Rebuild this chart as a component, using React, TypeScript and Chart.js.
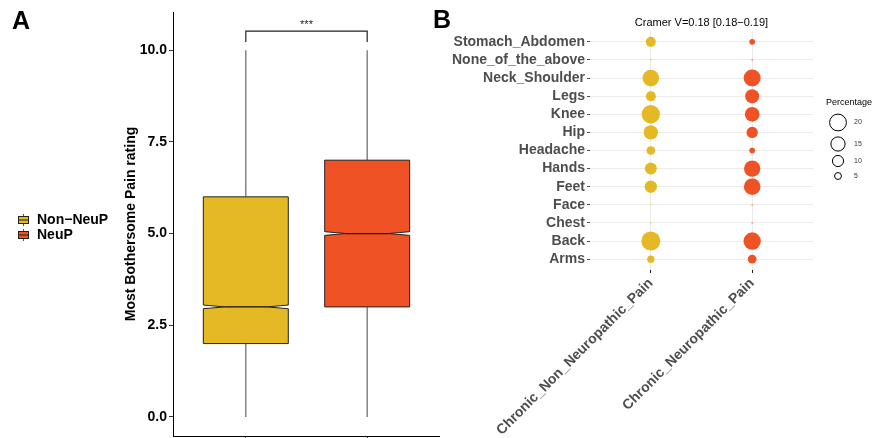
import React, { useEffect, useRef } from "react";
import { Chart, registerables } from "chart.js";
Chart.register(...registerables);

// ---------- Panel A data ----------
const groups = ["Non−NeuP", "NeuP"];
const groupColors = ["#E5B925", "#EF5224"];
const whiskerLow = [0, 0];
const q1 = [2, 3];
const median = [3, 5];
const q3 = [6, 7];
const whiskerHigh = [10, 10];
const notchHalf = [0.05, 0.05];
const yTicksA = [0, 2.5, 5, 7.5, 10];
const bracketLegY = 10.22;
const bracketTopY = 10.52;
const sigLabel = "***";
const yTitleA = "Most Bothersome Pain rating";

// ---------- Panel B data ----------
const painSites = [
  "Stomach_Abdomen",
  "None_of_the_above",
  "Neck_Shoulder",
  "Legs",
  "Knee",
  "Hip",
  "Headache",
  "Hands",
  "Feet",
  "Face",
  "Chest",
  "Back",
  "Arms",
];
const painGroups = ["Chronic_Non_Neuropathic_Pain", "Chronic_Neuropathic_Pain"];
const pctNonNeuP = [7.2, 1.4, 17.6, 7.2, 21.1, 13.3, 5.8, 9.8, 10.3, 1.4, 1.4, 22.5, 4.5];
const pctNeuP = [3.2, 1.4, 18.3, 12.9, 14.0, 8.8, 3.2, 17.1, 17.6, 1.4, 1.4, 19.0, 5.8];
const sizeLegendValues = [20, 15, 10, 5];
const sizeLegendTitle = "Percentage";
const cramerTitle = "Cramer V=0.18 [0.18−0.19]";

const FONT = "'Liberation Sans', Arial, Helvetica, sans-serif";
const BOX_HALF = 0.35;

function bubbleRadius(v: number) {
  return Math.sqrt(Math.max(0.35, 4.24 * v - 5.5));
}

const boxPlugin = {
  id: "notchedBoxes",
  afterDatasetsDraw(chart: any) {
    const { ctx } = chart;
    const x = chart.scales.x;
    const y = chart.scales.y;
    groups.forEach((_, i) => {
      const cx = i + 1;
      const l = x.getPixelForValue(cx - BOX_HALF);
      const r = x.getPixelForValue(cx + BOX_HALF);
      const inset = (r - l) * 0.25;
      const yq1 = y.getPixelForValue(q1[i]);
      const yq3 = y.getPixelForValue(q3[i]);
      const ym = y.getPixelForValue(median[i]);
      const ynl = y.getPixelForValue(median[i] - notchHalf[i]);
      const ynu = y.getPixelForValue(median[i] + notchHalf[i]);
      ctx.save();
      ctx.beginPath();
      ctx.moveTo(l, yq1);
      ctx.lineTo(l, ynl);
      ctx.lineTo(l + inset, ym);
      ctx.lineTo(l, ynu);
      ctx.lineTo(l, yq3);
      ctx.lineTo(r, yq3);
      ctx.lineTo(r, ynu);
      ctx.lineTo(r - inset, ym);
      ctx.lineTo(r, ynl);
      ctx.lineTo(r, yq1);
      ctx.closePath();
      ctx.fillStyle = groupColors[i];
      ctx.fill();
      ctx.lineWidth = 1;
      ctx.strokeStyle = "#222";
      ctx.stroke();
      ctx.beginPath();
      ctx.moveTo(l + inset, ym);
      ctx.lineTo(r - inset, ym);
      ctx.lineWidth = 1.2;
      ctx.strokeStyle = "#111";
      ctx.stroke();
      ctx.restore();
    });
  },
  afterDraw(chart: any) {
    const { ctx } = chart;
    const x = chart.scales.x;
    const y = chart.scales.y;
    const area = chart.chartArea;
    ctx.save();
    ctx.fillStyle = "#000";
    ctx.font = `bold 25px ${FONT}`;
    ctx.textAlign = "left";
    ctx.textBaseline = "alphabetic";
    ctx.fillText("A", 12, 29);
    ctx.save();
    ctx.translate(135, (area.top + area.bottom) / 2);
    ctx.rotate(-Math.PI / 2);
    ctx.font = `bold 14px ${FONT}`;
    ctx.textAlign = "center";
    ctx.textBaseline = "alphabetic";
    ctx.fillText(yTitleA, 0, 0);
    ctx.restore();
    ctx.font = `11px ${FONT}`;
    ctx.textAlign = "center";
    ctx.fillStyle = "#222";
    ctx.fillText(sigLabel, x.getPixelForValue(1.5), y.getPixelForValue(bracketTopY) - 3);
    groups.forEach((g, i) => {
      const cy = 220 + i * 15;
      ctx.strokeStyle = "#555";
      ctx.lineWidth = 1;
      ctx.beginPath();
      ctx.moveTo(23.5, cy - 6);
      ctx.lineTo(23.5, cy + 6);
      ctx.stroke();
      ctx.fillStyle = groupColors[i];
      ctx.fillRect(18.5, cy - 3.5, 10, 7);
      ctx.strokeStyle = "#222";
      ctx.strokeRect(18.5, cy - 3.5, 10, 7);
      ctx.beginPath();
      ctx.moveTo(18.5, cy);
      ctx.lineTo(28.5, cy);
      ctx.stroke();
      ctx.fillStyle = "#000";
      ctx.font = `bold 14px ${FONT}`;
      ctx.textAlign = "left";
      ctx.textBaseline = "middle";
      ctx.fillText(g, 37, cy + 0.5);
    });
    ctx.restore();
  },
};

const bubbleDecor = {
  id: "bubbleDecor",
  afterDraw(chart: any) {
    const { ctx } = chart;
    const area = chart.chartArea;
    ctx.save();
    ctx.fillStyle = "#000";
    ctx.font = `bold 25px ${FONT}`;
    ctx.textAlign = "left";
    ctx.textBaseline = "alphabetic";
    ctx.fillText("B", 3, 28);
    ctx.font = `11px ${FONT}`;
    ctx.textAlign = "center";
    ctx.textBaseline = "middle";
    ctx.fillText(cramerTitle, (area.left + area.right) / 2, 23);
    ctx.font = `9px ${FONT}`;
    ctx.textAlign = "left";
    ctx.fillText(sizeLegendTitle, 396, 103);
    const ys = [122.5, 144, 161, 176];
    sizeLegendValues.forEach((v, i) => {
      const r = bubbleRadius(v) - 0.5;
      ctx.beginPath();
      ctx.arc(408, ys[i], r, 0, Math.PI * 2);
      ctx.strokeStyle = "#000";
      ctx.lineWidth = 1;
      ctx.stroke();
      ctx.fillStyle = "#333";
      ctx.font = `7px ${FONT}`;
      ctx.fillText(String(v), 424, ys[i]);
    });
    ctx.restore();
  },
};

function PanelA() {
  const ref = useRef<HTMLCanvasElement | null>(null);
  useEffect(() => {
    if (!ref.current) return;
    const whiskerSets: any[] = [];
    groups.forEach((_, i) => {
      whiskerSets.push({
        data: [
          { x: i + 1, y: whiskerLow[i] },
          { x: i + 1, y: q1[i] },
        ],
      });
      whiskerSets.push({
        data: [
          { x: i + 1, y: q3[i] },
          { x: i + 1, y: whiskerHigh[i] },
        ],
      });
    });
    const datasets: any[] = whiskerSets.map((d) => ({
      ...d,
      showLine: true,
      borderColor: "#666",
      borderWidth: 1.2,
      pointRadius: 0,
    }));
    datasets.push({
      data: [
        { x: 1, y: bracketLegY },
        { x: 1, y: bracketTopY },
        { x: 2, y: bracketTopY },
        { x: 2, y: bracketLegY },
      ],
      showLine: true,
      borderColor: "#222",
      borderWidth: 1.2,
      pointRadius: 0,
    });
    const chart = new Chart(ref.current, {
      type: "scatter",
      data: { datasets },
      options: {
        responsive: false,
        animation: false,
        devicePixelRatio: 1,
        layout: { padding: { top: 12, left: 0, right: 0, bottom: 0 } },
        plugins: { legend: { display: false }, tooltip: { enabled: false } },
        scales: {
          x: {
            type: "linear",
            min: 0.4,
            max: 2.6,
            afterBuildTicks: (s: any) => {
              s.ticks = groups.map((_, i) => ({ value: i + 1 }));
            },
            ticks: { display: false },
            grid: { drawOnChartArea: false, drawTicks: true, tickLength: 3, color: "#333" },
            border: { color: "#000", width: 1 },
            afterFit: (s: any) => {
              s.height = 2;
              s.paddingLeft = 0;
              s.paddingRight = 0;
            },
          },
          y: {
            type: "linear",
            min: -0.52,
            max: 11.04,
            afterBuildTicks: (s: any) => {
              s.ticks = yTicksA.map((v) => ({ value: v }));
            },
            ticks: {
              font: { family: FONT, size: 14, weight: "bold" },
              color: "#000",
              padding: 2,
              callback: (v: any) => Number(v).toFixed(1),
            },
            grid: { drawOnChartArea: false, tickLength: 4, color: "#333" },
            border: { color: "#000", width: 1 },
            afterFit: (s: any) => {
              s.width = 173;
              s.paddingTop = 0;
              s.paddingBottom = 0;
            },
          },
        },
      } as any,
      plugins: [boxPlugin],
    });
    return () => chart.destroy();
  }, []);
  return <canvas ref={ref} width={440} height={438} style={{ position: "absolute", left: 0, top: 0 }} />;
}

function PanelB() {
  const ref = useRef<HTMLCanvasElement | null>(null);
  useEffect(() => {
    if (!ref.current) return;
    const series = [pctNonNeuP, pctNeuP];
    const datasets = series.map((vals, gi) => ({
      data: painSites.map((_, i) => ({ x: gi + 1, y: i + 1, r: bubbleRadius(vals[i]) })),
      backgroundColor: groupColors[gi],
      borderWidth: 0,
    }));
    const chart = new Chart(ref.current, {
      type: "bubble",
      data: { datasets },
      options: {
        responsive: false,
        animation: false,
        devicePixelRatio: 1,
        layout: { padding: { top: 31, left: 0, right: 60, bottom: 0 } },
        plugins: { legend: { display: false }, tooltip: { enabled: false } },
        scales: {
          x: {
            type: "linear",
            min: 0.4,
            max: 2.6,
            afterBuildTicks: (s: any) => {
              s.ticks = painGroups.map((_, i) => ({ value: i + 1 }));
            },
            ticks: {
              autoSkip: false,
              minRotation: 45,
              maxRotation: 45,
              padding: 2,
              font: { family: FONT, size: 14, weight: "bold" },
              color: "#4d4d4d",
              callback: (v: any) => painGroups[Math.round(v) - 1],
            },
            grid: { color: "#ebebeb", tickColor: "#222", tickLength: 3 },
            border: { display: false },
            afterFit: (s: any) => {
              s.height = 168;
            },
          },
          y: {
            type: "linear",
            reverse: true,
            min: 0.4,
            max: 13.6,
            afterBuildTicks: (s: any) => {
              s.ticks = painSites.map((_, i) => ({ value: i + 1 }));
            },
            ticks: {
              autoSkip: false,
              padding: 2,
              font: { family: FONT, size: 14, weight: "bold" },
              color: "#4d4d4d",
              callback: (v: any) => painSites[Math.round(v) - 1],
            },
            grid: { color: "#ebebeb", tickColor: "#4d4d4d", tickLength: 3 },
            border: { display: false },
            afterFit: (s: any) => {
              s.width = 160;
            },
          },
        },
      } as any,
      plugins: [bubbleDecor],
    });
    return () => chart.destroy();
  }, []);
  return <canvas ref={ref} width={443} height={438} style={{ position: "absolute", left: 430, top: 0 }} />;
}

export default function App() {
  return (
    <div style={{ position: "absolute", left: 0, top: 0, width: 873, height: 438, background: "#fff" }}>
      <PanelA />
      <PanelB />
    </div>
  );
}
